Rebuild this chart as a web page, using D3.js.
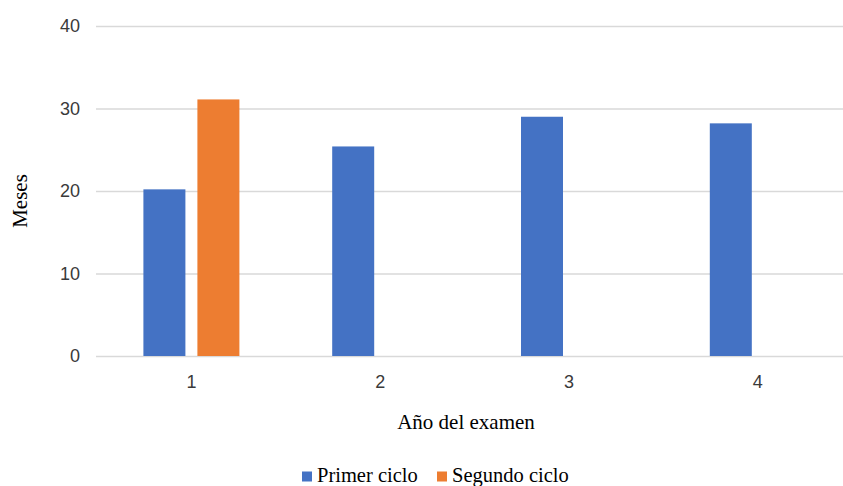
<!DOCTYPE html>
<html>
<head>
<meta charset="utf-8">
<script src="https://cdn.jsdelivr.net/npm/d3@7"></script>
<style>
  html, body { margin: 0; padding: 0; background: #fff; }
  svg { display: block; }
</style>
</head>
<body>
<svg id="chart" width="843" height="486"></svg>
<script>
const categories = ["1", "2", "3", "4"];
const seriesNames = ["Primer ciclo", "Segundo ciclo"];
const primerCiclo = [20.2, 25.4, 29.0, 28.2];
const segundoCiclo = [31.1, null, null, null];
const yTicks = [0, 10, 20, 30, 40];
const colors = ["#4472C4", "#ED7D31"];

const svg = d3.select("#chart");
const W = 843, H = 486;

const y = d3.scaleLinear().domain([0, 40]).range([356, 26]);
const x0 = d3.scaleBand().domain(categories).range([97, 852.2]).padding(0);
const x1 = d3.scaleBand().domain(seriesNames).range([x0.bandwidth()/2 - 48, x0.bandwidth()/2 + 48]).paddingInner(12/54).paddingOuter(0);

// gridlines
const yAxis = d3.axisLeft(y).tickValues(yTicks).tickSize(-(W - 96)).tickPadding(16);
const gy = svg.append("g").attr("transform", "translate(96,0)").call(yAxis);
gy.select(".domain").remove();
gy.selectAll(".tick line").attr("stroke", "#d9d9d9").attr("stroke-width", 1.5);
gy.selectAll(".tick text")
  .attr("fill", "#3a3a3a")
  .style("font-family", "'Liberation Sans', Arial, sans-serif")
  .style("font-size", "18px");

// bars
const data = categories.map((c, i) => ({ cat: c, vals: [
  { s: seriesNames[0], v: primerCiclo[i], color: colors[0] },
  { s: seriesNames[1], v: segundoCiclo[i], color: colors[1] }
]}));

const groups = svg.append("g").selectAll("g").data(data).join("g")
  .attr("transform", d => `translate(${x0(d.cat)},0)`);
groups.selectAll("rect").data(d => d.vals.filter(v => v.v != null)).join("rect")
  .attr("x", d => x1(d.s))
  .attr("width", x1.bandwidth())
  .attr("y", d => y(d.v))
  .attr("height", d => y(0) - y(d.v))
  .attr("fill", d => d.color);

// x axis labels
const xAxis = d3.axisBottom(x0).tickSize(0).tickPadding(19);
const gx = svg.append("g").attr("transform", "translate(0,356)").call(xAxis);
gx.select(".domain").remove();
gx.selectAll(".tick text")
  .attr("fill", "#3a3a3a")
  .style("font-family", "'Liberation Sans', Arial, sans-serif")
  .style("font-size", "18px");

// axis titles
svg.append("text")
  .attr("x", 466).attr("y", 429)
  .attr("text-anchor", "middle")
  .style("font-family", "'Liberation Serif', 'Times New Roman', serif")
  .style("font-size", "21px")
  .attr("fill", "#000")
  .text("Año del examen");

svg.append("text")
  .attr("transform", "translate(27,201) rotate(-90)")
  .attr("text-anchor", "middle")
  .style("font-family", "'Liberation Serif', 'Times New Roman', serif")
  .style("font-size", "21px")
  .attr("fill", "#000")
  .text("Meses");

// legend
const legend = svg.append("g");
const legendX = [302, 437];
seriesNames.forEach((s, i) => {
  const g = legend.append("g").attr("transform", `translate(${legendX[i]},0)`);
  g.append("rect").attr("x", 0).attr("y", 471.5).attr("width", 10).attr("height", 10).attr("fill", colors[i]);
  g.append("text").attr("x", 15).attr("y", 481.5)
    .style("font-family", "'Liberation Serif', 'Times New Roman', serif")
    .style("font-size", "20.5px")
    .attr("fill", "#000")
    .text(s);
});
</script>
</body>
</html>
